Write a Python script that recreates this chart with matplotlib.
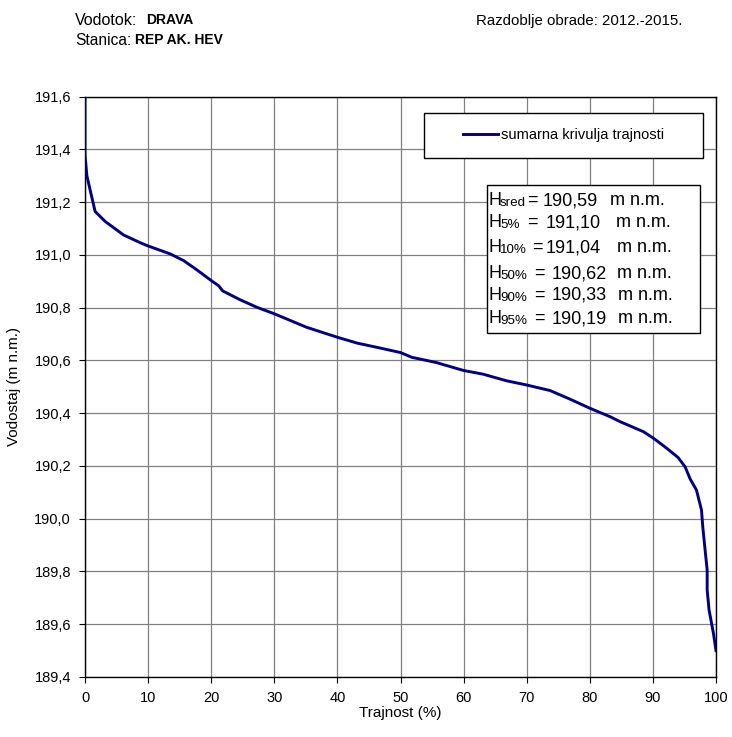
import matplotlib
matplotlib.use("Agg")
import matplotlib.pyplot as plt
from matplotlib.patches import Rectangle
from matplotlib.ticker import FuncFormatter, MultipleLocator

plt.rcParams['font.family'] = ['Liberation Sans', 'DejaVu Sans']

# duration curve
trajnost = [0, 0, 0.3, 1.6, 3.2, 6.1, 8.7, 9.9, 13.5, 15.6, 17.7, 20.0, 21.2,
            21.8, 24.6, 27.2, 30.0, 35.1, 40.0, 43.1, 46.8, 50.0, 51.8, 55.7,
            60.0, 63.1, 66.8, 70.0, 73.7, 76.9, 80.0, 83.2, 84.8, 88.5, 90.1,
            92.2, 94.0, 95.1, 95.9, 96.9, 97.7, 97.9, 98.3, 98.6, 98.6, 98.9,
            99.6, 100]
vodostaj = [191.60, 191.38, 191.30, 191.165, 191.127, 191.076, 191.047, 191.035,
            191.004, 190.979, 190.944, 190.903, 190.883, 190.864, 190.830,
            190.802, 190.777, 190.726, 190.688, 190.666, 190.647, 190.630,
            190.612, 190.592, 190.562, 190.548, 190.523, 190.507, 190.486,
            190.453, 190.419, 190.387, 190.368, 190.330, 190.305, 190.267,
            190.232, 190.197, 190.151, 190.109, 190.033, 189.970, 189.875,
            189.806, 189.730, 189.654, 189.565, 189.500]

stat_sub = ['sred', '5%', '10%', '50%', '90%', '95%']
stat_val = [190.59, 191.10, 191.04, 190.62, 190.33, 190.19]

W, H = 732, 737
fig = plt.figure(figsize=(W / 100, H / 100), dpi=100)


def fx(px):
    return px / W


def fy(py):
    return 1 - py / H


ax = fig.add_axes([fx(85), fy(677), fx(716) - fx(85), fy(96.7) - fy(677)])
ax.plot(trajnost, vodostaj, color='#000080', lw=2.1,
        label='sumarna krivulja trajnosti', zorder=3, solid_joinstyle='round')

ax.set_xlim(0, 100)
ax.set_ylim(189.4, 191.6)
ax.xaxis.set_major_locator(MultipleLocator(10))
ax.yaxis.set_major_locator(MultipleLocator(0.2))
ax.yaxis.set_major_formatter(FuncFormatter(lambda v, p: f'{v:.1f}'.replace('.', ',')))
ax.grid(True, color='#808080', lw=0.9)
ax.tick_params(direction='out', length=4, width=0.8, labelsize=10.5, pad=6)
for s in ax.spines.values():
    s.set_color('black')
    s.set_linewidth(1.0)
ax.set_xlabel('Trajnost (%)', fontsize=11)
ax.set_ylabel('Vodostaj (m n.m.)', fontsize=11)
ax.xaxis.set_label_coords(0.5, -0.05)
ax.yaxis.set_label_coords(-0.101, 0.5)

# legend box
ax.add_patch(Rectangle((fx(424.3), fy(158.3)), fx(702.7) - fx(424.3), fy(113.3) - fy(158.3),
                       transform=fig.transFigure, facecolor='white', edgecolor='black',
                       lw=1.0, zorder=4))
ax.legend(loc='center', bbox_to_anchor=(fx(563.5), fy(135.5)),
          bbox_transform=fig.transFigure, frameon=False, fontsize=10.5,
          handlelength=2.45, handletextpad=0.2)

# statistics box
ax.add_patch(Rectangle((fx(487.3), fy(332.7)), fx(700) - fx(487.3), fy(185) - fy(332.7),
                       transform=fig.transFigure, facecolor='white', edgecolor='black',
                       lw=1.0, zorder=4))
row_y = [199, 221, 246, 271.7, 293.3, 316.7]
eq_x = [527.5, 527, 532, 534, 534, 534]
val_x = [543, 546, 546, 552, 552, 552]
unit_x = [610, 616, 617, 617, 618, 618]
for sub, val, py, ex, vx, ux in zip(stat_sub, stat_val, row_y, eq_x, val_x, unit_x):
    base = fy(py + 6.3)
    fig.text(fx(488), base, 'H', fontsize=13, va='baseline', zorder=6)
    fig.text(fx(500), fy(py + 7.3), sub, fontsize=9.6, va='baseline', zorder=6)
    fig.text(fx(ex), base, '=', fontsize=13, va='baseline', zorder=6)
    fig.text(fx(vx), base, f'{val:.2f}'.replace('.', ','),
             fontsize=13, va='baseline', zorder=6)
    fig.text(fx(ux), base, 'm n.m.', fontsize=13, va='baseline', zorder=6)

# header
fig.text(fx(75), fy(20.5), 'Vodotok:', fontsize=11.5, va='center')
fig.text(fx(146), fy(20.5), 'DRAVA', fontsize=10, va='center', weight='bold')
fig.text(fx(75), fy(40.5), 'Stanica:', fontsize=11.2, va='center')
fig.text(fx(135), fy(40.5), 'REP AK. HEV', fontsize=10, va='center', weight='bold')
fig.text(fx(476), fy(20.5), 'Razdoblje obrade: 2012.-2015.', fontsize=10.8, va='center')

fig.savefig('out.png', dpi=100)
